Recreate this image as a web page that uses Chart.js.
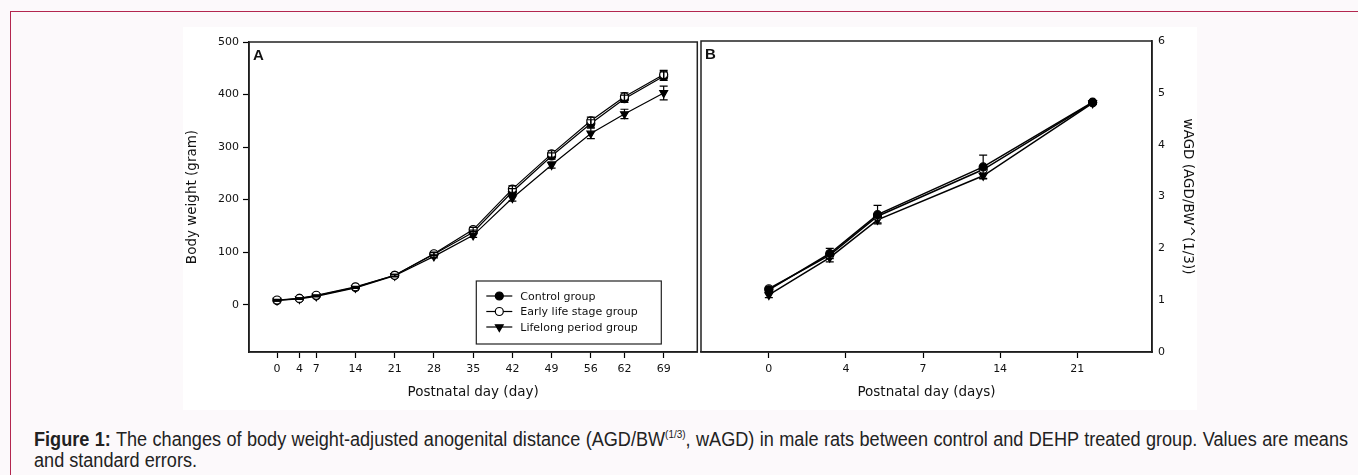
<!DOCTYPE html>
<html>
<head>
<meta charset="utf-8">
<script src="https://cdn.jsdelivr.net/npm/chart.js@4.4.1/dist/chart.umd.min.js"></script>
<style>
  html, body { margin: 0; padding: 0; background: #fcf9fb; width: 1358px; height: 475px; overflow: hidden;
    font-family: "Liberation Sans", Arial, sans-serif; }
  #box { position: absolute; left: 10px; top: 11px; width: 1400px; height: 520px; border: 1.5px solid #b3264f; box-sizing: border-box; }
  #fig { position: absolute; left: 183px; top: 27px; width: 1014px; height: 383px; background: #fff; }
  canvas { position: absolute; top: 0; }
  #caption { position: absolute; left: 34px; top: 424px; width: 1452px; font-family: "Liberation Sans", sans-serif;
    font-size: 20px; line-height: 21px; color: #222; transform: scaleX(0.905); transform-origin: 0 0; }
  #caption .l1 { text-align: justify; text-align-last: justify; white-space: nowrap; }
  #caption sup { font-size: 11px; }
</style>
</head>
<body>
<div id="box"></div>
<div id="fig">
  <canvas id="chartA" width="520" height="383" style="left:0"></canvas>
  <canvas id="chartB" width="537" height="383" style="left:477px"></canvas>
</div>
<div id="caption">
  <div class="l1"><b>Figure 1:</b> The changes of body weight-adjusted anogenital distance (AGD/BW<sup>(1/3)</sup>, wAGD) in male rats between control and DEHP treated group. Values are means</div>
  <div>and standard errors.</div>
</div>

<script>
// panel A: body weight
const daysA = [0, 4, 7, 14, 21, 28, 35, 42, 49, 56, 62, 69]
const ticksYA = [0, 100, 200, 300, 400, 500]
const controlA = [8, 12, 17, 33, 56, 96, 138, 215, 283, 345, 392, 435]
const earlyA = [9, 12, 18, 34, 56, 97, 143, 220, 287, 350, 396, 438]
const lifelongA = [8, 11, 16, 32, 55, 92, 132, 203, 266, 326, 363, 403]
const errControlA = [1, 1, 1, 1, 2, 3, 4, 6, 6, 7, 7, 8]
const errEarlyA = [1, 1, 1, 1, 2, 3, 4, 6, 6, 7, 7, 8]
const errLifelongA = [1, 1, 1, 1, 2, 3, 4, 6, 6, 10, 9, 13]

// panel B: wAGD (x in evenly spaced tick units)
const tickPosB = [0, 1, 2, 3, 4]
const tickLabelsB = ['0', '4', '7', '14', '21']
const ticksYB = [0, 1, 2, 3, 4, 5, 6]
const xB = [0, 0.79, 1.41, 2.78, 4.2]
const controlB = [1.2, 1.9, 2.65, 3.57, 4.82]
const earlyB = [1.22, 1.87, 2.62, 3.52, 4.81]
const lifelongB = [1.1, 1.82, 2.55, 3.4, 4.8]
const errControlB = [0.04, 0.1, 0.18, 0.23, 0.03]
const errLifelongB = [0.05, 0.08, 0.06, 0.05, 0.02]

const groupNames = ['Control group', 'Early life stage group', 'Lifelong period group']

const FONT = '"DejaVu Sans", "Liberation Sans", sans-serif'
const INK = '#111'

const errorBars = {
  id: 'errorBars',
  afterDatasetsDraw(chart) {
    const ctx = chart.ctx
    const ys = chart.scales.y
    chart.data.datasets.forEach((ds, i) => {
      if (!ds.errors) return
      const meta = chart.getDatasetMeta(i)
      ctx.save()
      ctx.strokeStyle = '#000'
      ctx.lineWidth = 1.2
      meta.data.forEach((pt, j) => {
        const e = ds.errors[j]
        if (!e) return
        const v = ds.data[j].y
        const top = ys.getPixelForValue(v + e)
        const bot = ys.getPixelForValue(v - e)
        ctx.beginPath()
        ctx.moveTo(pt.x, top); ctx.lineTo(pt.x, bot)
        ctx.moveTo(pt.x - 4, top); ctx.lineTo(pt.x + 4, top)
        ctx.moveTo(pt.x - 4, bot); ctx.lineTo(pt.x + 4, bot)
        ctx.stroke()
      })
      ctx.restore()
    })
  }
}

const frame = {
  id: 'frame',
  afterDraw(chart, args, opts) {
    const a = chart.chartArea
    const ctx = chart.ctx
    ctx.save()
    ctx.strokeStyle = '#222'
    ctx.lineWidth = 1.5
    ctx.strokeRect(a.left, a.top, a.right - a.left, a.bottom - a.top)
    ctx.fillStyle = INK
    ctx.font = 'bold 15px "Liberation Sans", sans-serif'
    ctx.textBaseline = 'top'
    ctx.fillText(opts.label, a.left + 4, a.top + 6)
    ctx.restore()
  }
}

const boxLegend = {
  id: 'boxLegend',
  afterDraw(chart, args, opts) {
    if (!opts.show) return
    const a = chart.chartArea
    const ctx = chart.ctx
    const w = 185, h = 63
    const left = a.right - 36 - w, top = a.bottom - 8 - h
    ctx.save()
    ctx.strokeStyle = '#222'
    ctx.lineWidth = 1.2
    ctx.strokeRect(left, top, w, h)
    chart.data.datasets.forEach((ds, i) => {
      const y = top + 15 + i * 15.5
      ctx.strokeStyle = '#000'
      ctx.lineWidth = 1.2
      ctx.beginPath()
      ctx.moveTo(left + 10, y); ctx.lineTo(left + 36, y)
      ctx.stroke()
      ctx.fillStyle = ds.pointBackgroundColor
      ctx.strokeStyle = '#000'
      Chart.helpers.drawPoint(ctx, {
        pointStyle: ds.pointStyle, rotation: ds.pointRotation || 0,
        radius: ds.pointRadius, borderWidth: 1.2
      }, left + 23, y)
      ctx.fillStyle = INK
      ctx.font = '11px ' + FONT
      ctx.textBaseline = 'middle'
      ctx.fillText(ds.label, left + 44, y + 1)
    })
    ctx.restore()
  }
}

// orders: lower order is drawn on top
function makeSets(xs, series, errs, width, orders) {
  const styles = [
    { pointStyle: 'circle', pointBackgroundColor: '#000', pointRadius: 4 },
    { pointStyle: 'circle', pointBackgroundColor: '#fff', pointRadius: 4 },
    { pointStyle: 'triangle', pointRotation: 180, pointBackgroundColor: '#000', pointRadius: 4.5 }
  ]
  return series.map((vals, i) => Object.assign({
    label: groupNames[i],
    data: xs.map((x, j) => ({ x: x, y: vals[j] })),
    errors: errs[i],
    order: orders[i],
    borderColor: '#000',
    borderWidth: width,
    pointBorderColor: '#000',
    pointBorderWidth: 1.2,
    tension: 0
  }, styles[i]))
}

const tickFont = { family: FONT, size: 11 }
const titleFont = { family: FONT, size: 13.5 }
const axisGrid = { drawOnChartArea: false, color: '#000', tickLength: 6, tickWidth: 1.2 }
const axisBorder = { color: '#111', width: 1.5 }

new Chart(document.getElementById('chartA'), {
  type: 'line',
  data: { datasets: makeSets(daysA, [controlA, earlyA, lifelongA], [errControlA, errEarlyA, errLifelongA], 1.2, [1, 0, 2]) },
  plugins: [errorBars, frame, boxLegend],
  options: {
    responsive: false,
    animation: false,
    events: [],
    layout: { padding: { top: 15, right: 2, left: 0, bottom: 0 } },
    plugins: {
      legend: { display: false },
      tooltip: { enabled: false },
      frame: { label: 'A' },
      boxLegend: { show: true }
    },
    scales: {
      x: {
        type: 'linear', min: -5, max: 75,
        afterBuildTicks: s => { s.ticks = daysA.map(v => ({ value: v })) },
        afterFit: s => { s.height = 58 },
        grid: axisGrid, border: axisBorder,
        ticks: { color: INK, font: tickFont, padding: 5, maxRotation: 0, autoSkip: false },
        title: { display: true, text: 'Postnatal day (day)', color: INK, font: titleFont, padding: { bottom: 9 } }
      },
      y: {
        type: 'linear', min: -90, max: 500,
        afterBuildTicks: s => { s.ticks = ticksYA.map(v => ({ value: v })) },
        afterFit: s => { s.width = 66 },
        grid: axisGrid, border: axisBorder,
        ticks: { color: INK, font: tickFont, padding: 4 },
        title: { display: true, text: 'Body weight (gram)', color: INK, font: titleFont, padding: { top: 1 } }
      }
    }
  }
})

new Chart(document.getElementById('chartB'), {
  type: 'line',
  data: { datasets: makeSets(xB, [controlB, earlyB, lifelongB], [errControlB, null, errLifelongB], 1.5, [0, 1, 2]) },
  plugins: [errorBars, frame, boxLegend],
  options: {
    responsive: false,
    animation: false,
    events: [],
    layout: { padding: { top: 14, right: 0, left: 41, bottom: 0 } },
    plugins: {
      legend: { display: false },
      tooltip: { enabled: false },
      frame: { label: 'B' },
      boxLegend: { show: false }
    },
    scales: {
      x: {
        type: 'linear', min: -0.88, max: 4.97,
        afterBuildTicks: s => { s.ticks = tickPosB.map(v => ({ value: v })) },
        afterFit: s => { s.height = 58 },
        grid: axisGrid, border: axisBorder,
        ticks: { color: INK, font: tickFont, padding: 5, maxRotation: 0, autoSkip: false,
          callback: (v, i) => tickLabelsB[i] },
        title: { display: true, text: 'Postnatal day (days)', color: INK, font: titleFont, padding: { bottom: 9 } }
      },
      y: {
        type: 'linear', position: 'right', min: 0, max: 6,
        afterBuildTicks: s => { s.ticks = ticksYB.map(v => ({ value: v })) },
        afterFit: s => { s.width = 45 },
        grid: { drawOnChartArea: false, drawTicks: false, color: '#000' }, border: axisBorder,
        ticks: { color: INK, font: tickFont, padding: 6 },
        title: { display: true, text: 'wAGD (AGD/BW^(1/3))', color: INK, font: titleFont, padding: { top: 1 } }
      }
    }
  }
})
</script>
</body>
</html>
